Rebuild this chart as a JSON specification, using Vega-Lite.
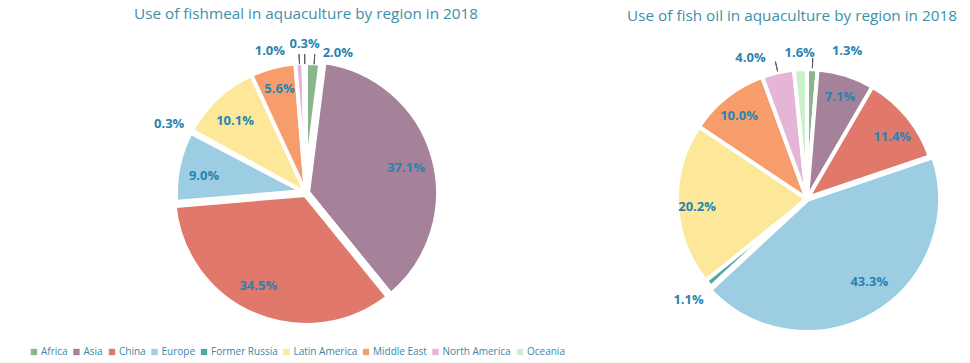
{
  "$schema": "https://vega.github.io/schema/vega-lite/v6.json",
  "background": "white",
  "padding": {"left": 29, "top": 6, "right": 4, "bottom": 2},
  "bounds": "flush",
  "spacing": 124,
  "datasets": {
    "fishmeal": [
      {"region": "Africa", "value": 2.0, "label": "2.0%"},
      {"region": "Asia", "value": 37.1, "label": "37.1%"},
      {"region": "China", "value": 34.5, "label": "34.5%"},
      {"region": "Europe", "value": 9.0, "label": "9.0%"},
      {"region": "Former Russia", "value": 0.3, "label": "0.3%"},
      {"region": "Latin America", "value": 10.1, "label": "10.1%"},
      {"region": "Middle East", "value": 5.6, "label": "5.6%"},
      {"region": "North America", "value": 1.0, "label": "1.0%"},
      {"region": "Oceania", "value": 0.3, "label": "0.3%"}
    ],
    "fishoil": [
      {"region": "Africa", "value": 1.3, "label": "1.3%"},
      {"region": "Asia", "value": 7.1, "label": "7.1%"},
      {"region": "China", "value": 11.4, "label": "11.4%"},
      {"region": "Europe", "value": 43.3, "label": "43.3%"},
      {"region": "Former Russia", "value": 1.1, "label": "1.1%"},
      {"region": "Latin America", "value": 20.2, "label": "20.2%"},
      {"region": "Middle East", "value": 10.0, "label": "10.0%"},
      {"region": "North America", "value": 4.0, "label": "4.0%"},
      {"region": "Oceania", "value": 1.6, "label": "1.6%"}
    ]
  },
  "hconcat": [
    {
      "data": {"name": "fishmeal"},
      "width": 554,
      "height": 334,
      "title": {"text": "Use of fishmeal in aquaculture by region in 2018", "anchor": "middle", "offset": 4},
      "encoding": {
        "theta": {"field": "value", "type": "quantitative", "stack": true},
        "order": {"field": "region", "type": "ordinal", "sort": "ascending"},
        "color": {
          "field": "region", "type": "nominal",
          "scale": {
            "domain": ["Africa", "Asia", "China", "Europe", "Former Russia", "Latin America", "Middle East", "North America", "Oceania"],
            "range": ["#8ab68b", "#a5819a", "#e1786c", "#9ccde2", "#50a8a3", "#fde89a", "#f79d6b", "#e4b5d7", "#cdf0cc"]
          },
          "legend": {"title": null}
        }
      },
      "layer": [
        {
          "mark": {"type": "arc", "outerRadius": 130, "stroke": "white", "strokeWidth": 4}
        },
        {
          "mark": {"type": "arc", "outerRadius": 134, "stroke": "white", "strokeWidth": 8},
          "encoding": {
            "opacity": {"condition": {"test": "indexof(['Asia','China'], datum.region) >= 0", "value": 1}, "value": 0}
          }
        },
        {
          "mark": {"type": "arc", "innerRadius": 129, "outerRadius": 139, "padAngle": 0.6, "fill": "transparent", "stroke": "#595959", "strokeWidth": 1},
          "encoding": {
            "color": null,
            "detail": {"field": "region"},
            "strokeOpacity": {"condition": {"test": "indexof(['Africa','North America','Oceania'], datum.region) >= 0", "value": 1}, "value": 0}
          }
        },
        {
          "mark": {"type": "text", "radius": 104, "dy": 4, "font": "Open Sans", "fontSize": 13, "fontWeight": "bold", "fill": "#2784b0"},
          "encoding": {
            "color": null,
            "detail": {"field": "region"},
            "text": {"condition": {"test": "indexof(['Asia','Europe','Latin America'], datum.region) >= 0", "field": "label"}, "value": ""}
          }
        },
        {
          "mark": {"type": "text", "radius": 104, "dy": -3, "font": "Open Sans", "fontSize": 13, "fontWeight": "bold", "fill": "#2784b0"},
          "encoding": {
            "color": null,
            "detail": {"field": "region"},
            "text": {"condition": {"test": "datum.region === 'Middle East'", "field": "label"}, "value": ""}
          }
        },
        {
          "mark": {"type": "text", "radius": 104, "dx": -7, "dy": -3, "font": "Open Sans", "fontSize": 13, "fontWeight": "bold", "fill": "#2784b0"},
          "encoding": {
            "color": null,
            "detail": {"field": "region"},
            "text": {"condition": {"test": "datum.region === 'China'", "field": "label"}, "value": ""}
          }
        },
        {
          "mark": {"type": "text", "radius": 153, "dx": -2, "dy": 3, "font": "Open Sans", "fontSize": 13, "fontWeight": "bold", "fill": "#2784b0"},
          "encoding": {
            "color": null,
            "detail": {"field": "region"},
            "text": {"condition": {"test": "datum.region === 'Former Russia'", "field": "label"}, "value": ""}
          }
        },
        {
          "mark": {"type": "text", "radius": 142, "dx": -29, "font": "Open Sans", "fontSize": 13, "fontWeight": "bold", "fill": "#2784b0"},
          "encoding": {
            "color": null,
            "detail": {"field": "region"},
            "text": {"condition": {"test": "datum.region === 'North America'", "field": "label"}, "value": ""}
          }
        },
        {
          "mark": {"type": "text", "radius": 149, "font": "Open Sans", "fontSize": 13, "fontWeight": "bold", "fill": "#2784b0"},
          "encoding": {
            "color": null,
            "detail": {"field": "region"},
            "text": {"condition": {"test": "datum.region === 'Oceania'", "field": "label"}, "value": ""}
          }
        },
        {
          "mark": {"type": "text", "radius": 140, "dx": 23, "font": "Open Sans", "fontSize": 13, "fontWeight": "bold", "fill": "#2784b0"},
          "encoding": {
            "color": null,
            "detail": {"field": "region"},
            "text": {"condition": {"test": "datum.region === 'Africa'", "field": "label"}, "value": ""}
          }
        }
      ]
    },
    {
      "data": {"name": "fishoil"},
      "width": 200,
      "height": 346,
      "title": {"text": "Use of fish oil in aquaculture by region in 2018", "anchor": "middle", "offset": 4, "dx": -15, "dy": 2},
      "encoding": {
        "theta": {"field": "value", "type": "quantitative", "stack": true},
        "order": {"field": "region", "type": "ordinal", "sort": "ascending"},
        "color": {"field": "region", "type": "nominal", "legend": {"title": null}}
      },
      "layer": [
        {
          "mark": {"type": "arc", "outerRadius": 130, "stroke": "white", "strokeWidth": 4}
        },
        {
          "mark": {"type": "arc", "outerRadius": 134, "stroke": "white", "strokeWidth": 6},
          "encoding": {
            "opacity": {"condition": {"test": "datum.region === 'Europe'", "value": 1}, "value": 0}
          }
        },
        {
          "mark": {"type": "arc", "innerRadius": 131, "outerRadius": 141, "padAngle": 0.6, "fill": "transparent", "stroke": "#595959", "strokeWidth": 1},
          "encoding": {
            "color": null,
            "detail": {"field": "region"},
            "strokeOpacity": {"condition": {"test": "indexof(['Africa','North America'], datum.region) >= 0", "value": 1}, "value": 0}
          }
        },
        {
          "mark": {"type": "text", "radius": 110, "dy": 3, "font": "Open Sans", "fontSize": 13, "fontWeight": "bold", "fill": "#2784b0"},
          "encoding": {
            "color": null,
            "detail": {"field": "region"},
            "text": {"condition": {"test": "indexof(['Asia','Latin America','Middle East'], datum.region) >= 0", "field": "label"}, "value": ""}
          }
        },
        {
          "mark": {"type": "text", "radius": 110, "dy": 8, "font": "Open Sans", "fontSize": 13, "fontWeight": "bold", "fill": "#2784b0"},
          "encoding": {
            "color": null,
            "detail": {"field": "region"},
            "text": {"condition": {"test": "datum.region === 'China'", "field": "label"}, "value": ""}
          }
        },
        {
          "mark": {"type": "text", "radius": 106, "dx": 8, "dy": -8, "font": "Open Sans", "fontSize": 13, "fontWeight": "bold", "fill": "#2784b0"},
          "encoding": {
            "color": null,
            "detail": {"field": "region"},
            "text": {"condition": {"test": "datum.region === 'Europe'", "field": "label"}, "value": ""}
          }
        },
        {
          "mark": {"type": "text", "radius": 154, "dx": -2, "font": "Open Sans", "fontSize": 13, "fontWeight": "bold", "fill": "#2784b0"},
          "encoding": {
            "color": null,
            "detail": {"field": "region"},
            "text": {"condition": {"test": "datum.region === 'Former Russia'", "field": "label"}, "value": ""}
          }
        },
        {
          "mark": {"type": "text", "radius": 145, "dx": -24, "font": "Open Sans", "fontSize": 13, "fontWeight": "bold", "fill": "#2784b0"},
          "encoding": {
            "color": null,
            "detail": {"field": "region"},
            "text": {"condition": {"test": "datum.region === 'North America'", "field": "label"}, "value": ""}
          }
        },
        {
          "mark": {"type": "text", "radius": 146, "font": "Open Sans", "fontSize": 13, "fontWeight": "bold", "fill": "#2784b0"},
          "encoding": {
            "color": null,
            "detail": {"field": "region"},
            "text": {"condition": {"test": "datum.region === 'Oceania'", "field": "label"}, "value": ""}
          }
        },
        {
          "mark": {"type": "text", "radius": 148, "dx": 34, "font": "Open Sans", "fontSize": 13, "fontWeight": "bold", "fill": "#2784b0"},
          "encoding": {
            "color": null,
            "detail": {"field": "region"},
            "text": {"condition": {"test": "datum.region === 'Africa'", "field": "label"}, "value": ""}
          }
        }
      ]
    }
  ],
  "config": {
    "view": {"stroke": null},
    "font": "Open Sans",
    "title": {"font": "Open Sans", "fontSize": 15.3, "fontWeight": "normal", "color": "#3e8fa6"},
    "legend": {
      "orient": "none",
      "legendX": 0,
      "legendY": 321,
      "direction": "horizontal",
      "symbolType": "square",
      "symbolSize": 40,
      "symbolStrokeWidth": 0,
      "labelFont": "Open Sans",
      "labelFontSize": 10,
      "labelColor": "#3b86a8",
      "labelOffset": 2,
      "columnPadding": 3.5
    }
  }
}
